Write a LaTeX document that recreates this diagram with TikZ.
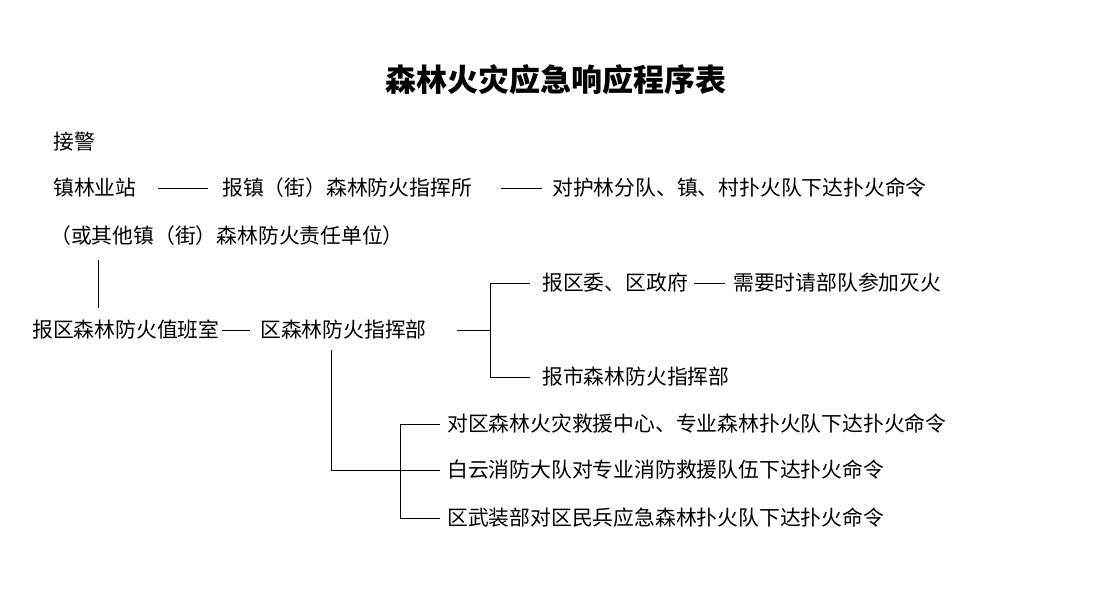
\documentclass[tikz,border=0pt]{standalone}
\usepackage{fontspec}
\setmainfont{Noto Sans CJK SC}
\begin{document}
\begin{tikzpicture}[x=1pt,y=-1pt,
  t/.style={anchor=west,inner sep=0pt,font=\fontsize{20.8}{21}\selectfont},
  ln/.style={line width=1pt}]
\useasboundingbox (0,0) rectangle (1106,599);
\node[font=\fontsize{31}{32}\selectfont\bfseries] (title) at (556,80) {森林火灾应急响应程序表};
\node[t] (jj) at (53,142) {接警};
\node[t] (zl) at (53,188) {镇林业站};
\node[t] (bz) at (222,188) {报镇（街）森林防火指挥所};
\node[t] (dh) at (552,188) {对护林分队、镇、村扑火队下达扑火命令};
\node[t] (hq) at (50,236) {（或其他镇（街）森林防火责任单位）};
\node[t] (bq) at (32,330) {报区森林防火值班室};
\node[t] (qs) at (260,330) {区森林防火指挥部};
\node[t] (bw) at (542,283) {报区委、区政府};
\node[t] (xy) at (733,283) {需要时请部队参加灭火};
\node[t] (bs) at (542,377) {报市森林防火指挥部};
\node[t] (d1) at (447,424) {对区森林火灾救援中心、专业森林扑火队下达扑火命令};
\node[t] (d2) at (447,470) {白云消防大队对专业消防救援队伍下达扑火命令};
\node[t] (d3) at (447,518) {区武装部对区民兵应急森林扑火队下达扑火命令};
\draw[ln] (158,188) -- (208,188);
\draw[ln] (501,188) -- (542,188);
\draw[ln] (98,260) -- (98,308);
\draw[ln] (222,330) -- (250,330);
\draw[ln] (457,330) -- (490,330);
\draw[ln] (530,283) -- (490,283) -- (490,377) -- (530,377);
\draw[ln] (694,283) -- (725,283);
\draw[ln] (331,350) -- (331,470) -- (440,470);
\draw[ln] (440,424) -- (400,424) -- (400,518) -- (440,518);
\end{tikzpicture}
\end{document}
